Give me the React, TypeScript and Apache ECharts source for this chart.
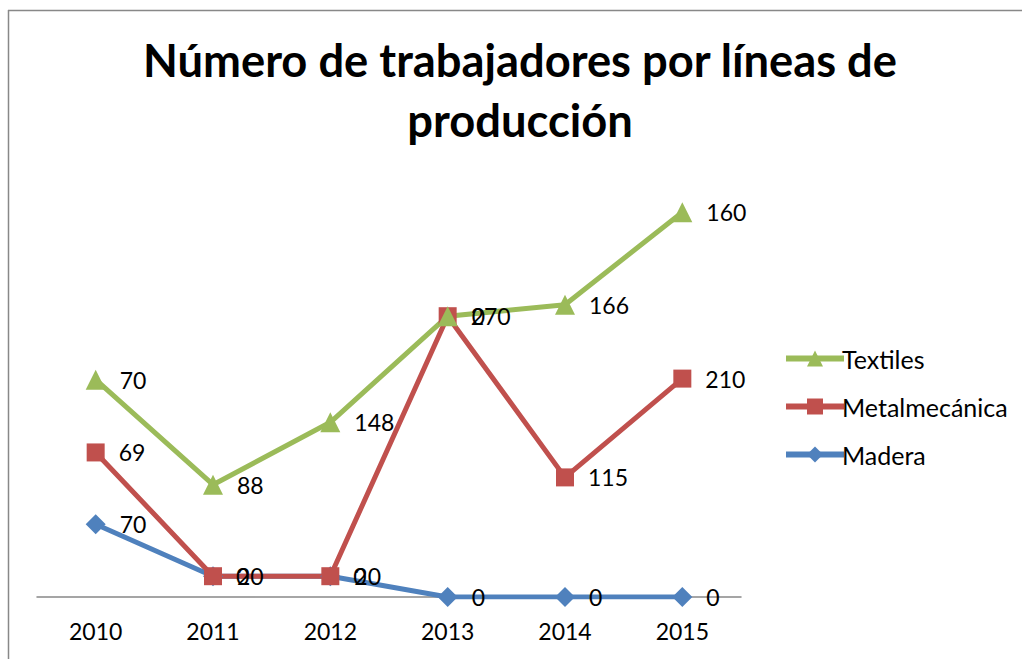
import React, { useEffect, useRef } from "react";
import * as echarts from "echarts";

const years = ["2010", "2011", "2012", "2013", "2014", "2015"];
const madera = [70, 20, 20, 0, 0, 0];
const metalmecanica = [69, 0, 0, 270, 115, 210];
const textiles = [70, 88, 148, 0, 166, 160];
const titleText = "Número de trabajadores por líneas de\nproducción";

const FONT = "Lato";

export default function App() {
  const ref = useRef<HTMLDivElement>(null);
  useEffect(() => {
    if (!ref.current) return;
    const chart = echarts.init(ref.current, undefined, { renderer: "svg" });
    const label = {
      show: true,
      position: "right" as const,
      distance: 14,
      color: "#000",
      fontFamily: FONT,
      fontSize: 23,
    };
    const mk = (name: string, data: number[], color: string, symbol: string, size: number) => ({
      name,
      type: "line",
      stack: "total",
      data,
      symbol,
      symbolSize: size,
      lineStyle: { color, width: 5 },
      itemStyle: { color },
      label,
    });
    chart.setOption({
      animation: false,
      backgroundColor: "#fff",
      title: {
        text: titleText,
        left: 515,
        top: 24,
        textAlign: "center",
        textStyle: { fontFamily: FONT, fontWeight: "bold", fontSize: 45.3, lineHeight: 60, color: "#000" },
      },
      grid: { left: 37, width: 704, top: 181, height: 416 },
      xAxis: {
        type: "category",
        data: years,
        boundaryGap: true,
        axisLine: { lineStyle: { color: "#888", width: 1.5 } },
        axisTick: { show: false },
        axisLabel: { color: "#000", fontFamily: FONT, fontSize: 23, margin: 22 },
      },
      yAxis: {
        type: "value",
        min: 0,
        max: 400,
        show: false,
      },
      legend: {
        data: ["Textiles", "Metalmecánica", "Madera"],
        orient: "vertical",
        left: 778,
        top: 341,
        itemWidth: 58,
        itemHeight: 20,
        itemGap: 23,
        lineStyle: { width: 6 },
        textStyle: { fontFamily: FONT, fontSize: 25, color: "#000", padding: [0, 0, 0, -7] },
      },
      graphic: [
        { type: "line", shape: { x1: 8, y1: 10.5, x2: 1022, y2: 10.5 }, style: { stroke: "#888", lineWidth: 1.5 } },
        { type: "line", shape: { x1: 8.5, y1: 10, x2: 8.5, y2: 659 }, style: { stroke: "#888", lineWidth: 1.5 } },
      ],
      series: [
        mk("Madera", madera, "#4F81BD", "diamond", 20),
        mk("Metalmecánica", metalmecanica, "#C0504D", "rect", 18),
        mk("Textiles", textiles, "#9BBB59", "triangle", 20),
      ],
    });
    return () => chart.dispose();
  }, []);
  return <div ref={ref} style={{ position: "fixed", left: 0, top: 0, width: 1022, height: 659 }} />;
}
